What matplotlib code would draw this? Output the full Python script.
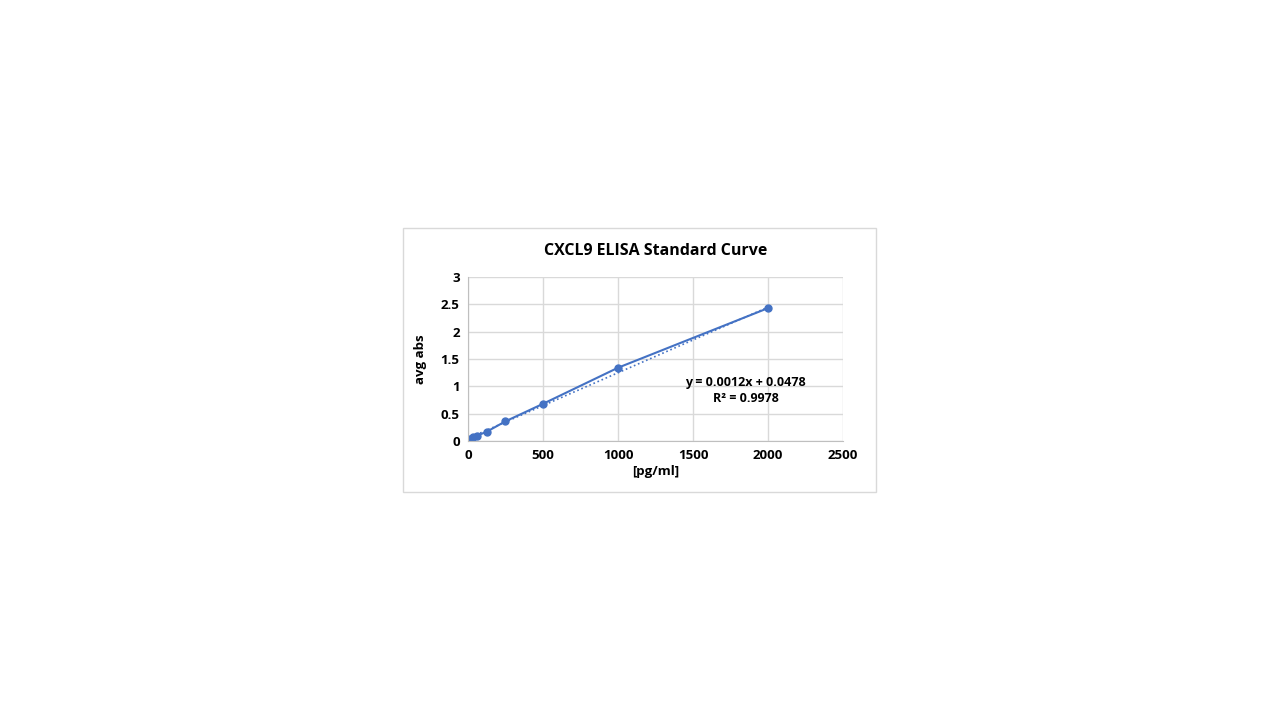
import matplotlib
matplotlib.use("Agg")
import matplotlib.pyplot as plt
from matplotlib.patches import Rectangle

conc = [0, 15.6, 31.25, 62.5, 125, 250, 500, 1000, 2000]
absorb = [0.02, 0.04, 0.07, 0.10, 0.17, 0.36, 0.68, 1.34, 2.43]
slope, intercept = 0.0012, 0.0478
xticks = [0, 500, 1000, 1500, 2000, 2500]
yticks = [0, 0.5, 1, 1.5, 2, 2.5, 3]
ylabels = ["0", "0.5", "1", "1.5", "2", "2.5", "3"]

plt.rcParams['font.family'] = ['Open Sans', 'DejaVu Sans']
fig = plt.figure(figsize=(12.8, 7.2), dpi=100)
fig.patches.append(Rectangle((0.3148, 0.3167), 0.3696, 0.3666, transform=fig.transFigure,
                             facecolor='white', edgecolor='#d9d9d9', lw=1, zorder=-5))
ax = fig.add_axes([0.3656, 0.3875, 0.293, 0.2278])
ax.set_zorder(2)
ax.patch.set_alpha(0)
ax.plot(conc, absorb, '-o', color='#4472c4', lw=1.5, ms=5)
tx = [0, 2000]
ax.plot(tx, [intercept + slope * t for t in tx], ':', color='#4472c4', lw=1.2)
ax.set_xlim(0, 2500)
ax.set_ylim(0, 3)
ax.set_xticks(xticks)
ax.set_yticks(yticks)
ax.set_yticklabels(ylabels)
ax.grid(True, color='#d9d9d9', lw=1)
ax.set_axisbelow(True)
for s in ['top', 'right']:
    ax.spines[s].set_visible(False)
for s in ['left', 'bottom']:
    ax.spines[s].set_color('#bfbfbf')
ax.tick_params(length=0, labelsize=9.5, pad=6)
for t in ax.get_xticklabels() + ax.get_yticklabels():
    t.set_fontweight('bold')
ax.set_xlabel('[pg/ml]', fontsize=9.5, fontweight='bold', labelpad=2)
ax.set_ylabel('avg abs', fontsize=9.5, fontweight='bold', labelpad=10)
ax.set_title('CXCL9 ELISA Standard Curve', fontsize=11.5, fontweight='bold', pad=16)
ax.text(1850, 0.93, 'y = 0.0012x + 0.0478\nR² = 0.9978', ha='center', va='center',
        fontsize=9, fontweight='bold', linespacing=1.3)
fig.savefig('out.png', dpi=100)
